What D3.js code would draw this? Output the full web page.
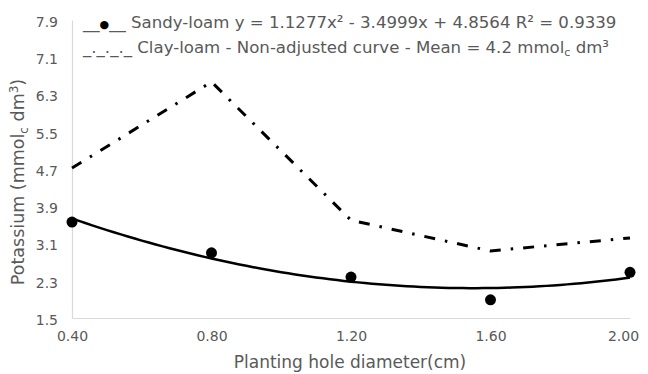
<!DOCTYPE html>
<html>
<head>
<meta charset="utf-8">
<script src="https://cdn.jsdelivr.net/npm/d3@7"></script>
<style>
  body { margin: 0; background: #fff; }
  text { font-family: "DejaVu Sans", sans-serif; fill: #595959; }
</style>
</head>
<body>
<svg id="chart" width="648" height="374"></svg>
<script>
// data
const diameters = [0.40, 0.80, 1.20, 1.60, 2.00];
const sandyLoam = [3.56, 2.90, 2.38, 1.89, 2.48];
const clayLoam = [4.72, 6.57, 3.60, 2.94, 3.22];
// quadratic trend for sandy-loam, as printed in the legend (a, b, c)
const trendCoef = [1.1277, -3.4999, 4.8564];
const xTicks = [0.40, 0.80, 1.20, 1.60, 2.00];
const yTicks = [1.5, 2.3, 3.1, 3.9, 4.7, 5.5, 6.3, 7.1, 7.9];

const margin = { left: 72, right: 18, top: 20, bottom: 56 };
const W = 648, H = 374;

const svg = d3.select("#chart");

const x = d3.scaleLinear().domain([0.4, 2.0]).range([margin.left, W - margin.right]);
const y = d3.scaleLinear().domain([1.5, 7.9]).range([H - margin.bottom, margin.top]);

// axes (light grey lines, no ticks)
const xAxis = svg.append("g")
  .attr("transform", `translate(0,${y(1.5)})`)
  .call(d3.axisBottom(x).tickValues(xTicks).tickFormat(d3.format(".2f")).tickSize(0).tickPadding(13));
const yAxis = svg.append("g")
  .attr("transform", `translate(${x(0.4)},0)`)
  .call(d3.axisLeft(y).tickValues(yTicks).tickFormat(d3.format(".1f")).tickSize(0).tickPadding(14));

[xAxis, yAxis].forEach(a => {
  a.select(".domain").attr("stroke", "#d9d9d9").attr("stroke-width", 1.2);
  a.selectAll("text").attr("font-size", 14).attr("fill", "#595959")
    .attr("font-family", "DejaVu Sans, sans-serif");
});
yAxis.selectAll("text").attr("dy", "0.45em");
// last label sits slightly left, as in the original
xAxis.selectAll("text").filter(d => d === 2.0).attr("dx", -7);

// clay-loam, dash-dot line
const line = d3.line().x((d, i) => x(diameters[i])).y(d => y(d));
svg.append("path")
  .datum(clayLoam)
  .attr("d", line)
  .attr("fill", "none")
  .attr("stroke", "#000")
  .attr("stroke-width", 3)
  .attr("stroke-dasharray", "11,10,2.5,10");

// sandy-loam trend curve
const trendX = d3.range(0.4, 2.0001, 0.02);
const poly = v => trendCoef[0] * v * v + trendCoef[1] * v + trendCoef[2];
svg.append("path")
  .datum(trendX)
  .attr("d", d3.line().x(d => x(d)).y(d => y(poly(d))).curve(d3.curveBasis))
  .attr("fill", "none")
  .attr("stroke", "#000")
  .attr("stroke-width", 2.5);

// sandy-loam observations
svg.append("g").selectAll("circle")
  .data(sandyLoam)
  .join("circle")
  .attr("cx", (d, i) => x(diameters[i]))
  .attr("cy", d => y(d))
  .attr("r", 5.5)
  .attr("fill", "#000");

// legend
const leg1 = svg.append("text").attr("x", 83).attr("y", 28).attr("font-size", 16.6);
leg1.append("tspan").text("__");
leg1.append("tspan").text("●").attr("font-size", 11).style("fill", "#000");
leg1.append("tspan").text("__ Sandy-loam y = 1.1277x² - 3.4999x + 4.8564 R² = 0.9339");

const leg2 = svg.append("text").attr("x", 83).attr("y", 53).attr("font-size", 16.6);
leg2.append("tspan").text("_._._._ Clay-loam - Non-adjusted curve - Mean = 4.2 mmol");
leg2.append("tspan").text("c").attr("font-size", 11).attr("dy", 3);
leg2.append("tspan").text(" dm³").attr("dy", -3);

// axis titles
svg.append("text")
  .attr("x", 350)
  .attr("y", 368)
  .attr("text-anchor", "middle")
  .attr("font-size", 17)
  .text("Planting hole diameter(cm)");

const yt = svg.append("text")
  .attr("transform", "translate(24,182) rotate(-90)")
  .attr("text-anchor", "middle")
  .attr("font-size", 17.5);
yt.append("tspan").text("Potassium (mmol");
yt.append("tspan").text("c").attr("font-size", 12).attr("dy", 4);
yt.append("tspan").text(" dm").attr("dy", -4);
yt.append("tspan").text("3").attr("font-size", 12).attr("dy", -6);
yt.append("tspan").text(")").attr("dy", 6);
</script>
</body>
</html>
